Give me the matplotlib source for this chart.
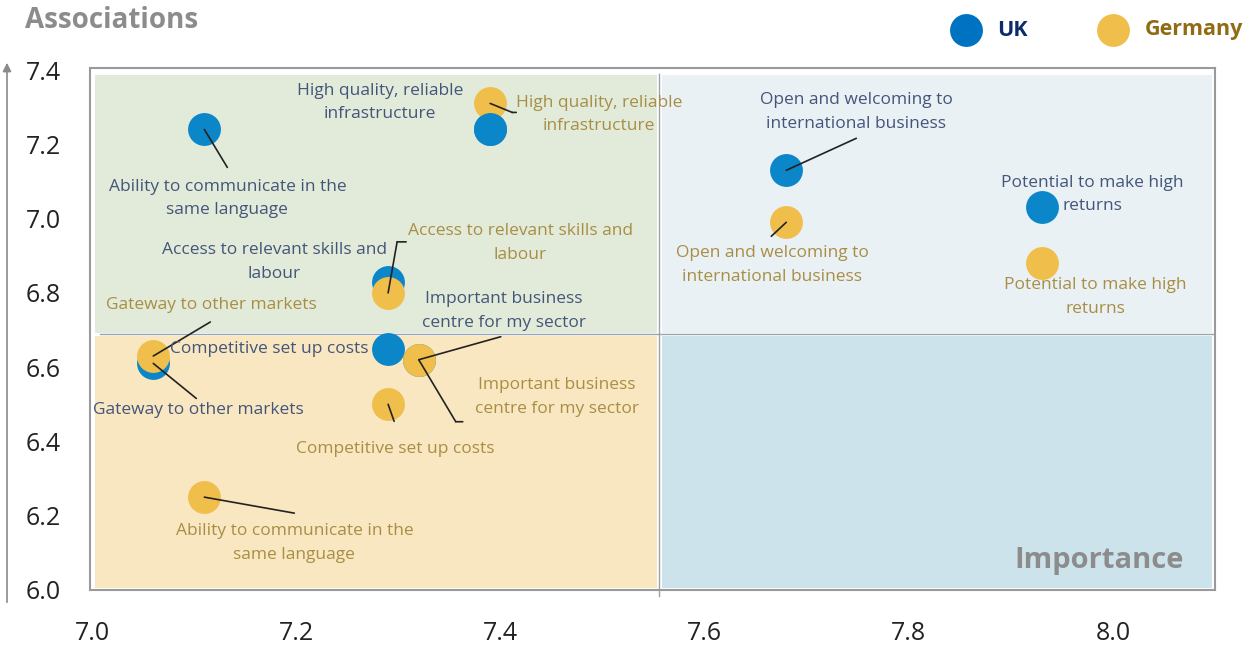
import numpy as np
import matplotlib
matplotlib.use('Agg')
import matplotlib.pyplot as plt
from matplotlib.patches import Rectangle, FancyArrowPatch

plt.rcParams['font.family'] = ['Open Sans', 'DejaVu Sans']

#-------------------------------------------------------------------------------
#DATA

labels_uk = ['Ability to communicate in the\nsame language',
             'High quality, reliable\ninfrastructure',
             'Open and welcoming to\ninternational business',
             'Potential to make high\nreturns',
             'Access to relevant skills and\nlabour',
             'Competitive set up costs',
             'Gateway to other markets',
             'Important business\ncentre for my sector']
labels_de = ['Ability to communicate in the\nsame language',
             'High quality, reliable\ninfrastructure',
             'Open and welcoming to\ninternational business',
             'Potential to make high\nreturns',
             'Access to relevant skills and\nlabour',
             'Competitive set up costs',
             'Gateway to other markets',
             'Important business\ncentre for my sector']

uk_importance = [7.11, 7.39, 7.68, 7.93, 7.29, 7.29, 7.06, 7.32]
uk_association = [7.24, 7.24, 7.13, 7.03, 6.83, 6.65, 6.61, 6.62]
de_importance = [7.11, 7.39, 7.68, 7.93, 7.29, 7.29, 7.06, 7.32]
de_association = [6.25, 7.31, 6.99, 6.88, 6.80, 6.50, 6.63, 6.62]

xticks = [7.0, 7.2, 7.4, 7.6, 7.8, 8.0]
yticks = [6.0, 6.2, 6.4, 6.6, 6.8, 7.0, 7.2, 7.4]

#-------------------------------------------------------------------------------
#STYLE / LAYOUT

c_uk = '#0a86c9'
c_de = '#f0be4a'
c_uk_txt = '#44557a'
c_de_txt = '#a88e45'

#label offsets (pixels) from marker: text centre, leader end (None = no leader)
off_uk = [((23, -69), (23, -38)),
          ((-110, 27), None),
          ((70, 58), (70, 32)),
          ((51, 13), None),
          ((-114, 20), None),
          ((-119, 0), None),
          ((45, -47), (43, -35)),
          ((85, 49), (82, 23))]
off_de = [((90, -46), (90, -16)),
          ((109, -11), (22, -9)),
          ((-14, -43), (-15, -14)),
          ((54, -34), None),
          ((132, 50), (9, 51)),
          ((7, -45), (6, -17)),
          ((58, 51), (57, 34)),
          ((138, -37), (37, -62))]
#short horizontal ends on some leaders (pixels)
ticks_de = {1: 4, 4: 9, 7: 7}

W, H = 1254, 650
fig = plt.figure(figsize=(W/100, H/100), dpi=100)
ax = fig.add_axes([90/W, (H-590)/H, (1215-90)/W, (590-68)/H])
ax.set_xlim(6.998, 8.0999)
ax.set_ylim(6.0, 7.4054)

#quadrant backgrounds
xm, ym = 7.5555, 6.688
quads = [((7.003, ym + 0.004), (xm - 0.002, 7.386), '#e2ebd9'),
         ((xm + 0.003, ym + 0.004), (8.097, 7.386), '#e9f1f5'),
         ((7.003, 6.006), (xm - 0.002, ym - 0.005), '#f9e7c2'),
         ((xm + 0.003, 6.006), (8.097, ym - 0.005), '#cde3eb')]
for (x0, y0), (x1, y1), c in quads:
    ax.add_patch(Rectangle((x0, y0), x1 - x0, y1 - y0, facecolor=c,
                           edgecolor='none', zorder=0))
ax.plot([xm, xm], [5.985, 7.39], color='#9aa3aa', lw=1, clip_on=False, zorder=1)
ax.plot([7.008, 8.0999], [ym, ym], color='#9aa3aa', lw=1, zorder=1)

for s in ax.spines.values():
    s.set_color('#9a9a9a')
    s.set_linewidth(1.5)

ax.set_xticks(xticks)
ax.set_xticklabels(['%.1f' % v for v in xticks])
ax.set_yticks(yticks)
ax.set_yticklabels(['%.1f' % v for v in yticks])
ax.tick_params(length=0, labelsize=18, colors='#222222')
ax.tick_params(axis='y', pad=21)
ax.tick_params(axis='x', pad=22)

ax.scatter(uk_importance, uk_association, s=560, color=c_uk, lw=0, zorder=3)
ax.scatter(de_importance, de_association, s=560, color=c_de, lw=0, zorder=4)
#UK infrastructure point sits over the German one
ax.scatter(uk_importance[1], uk_association[1], s=560, color=c_uk, lw=0, zorder=4)

def add_labels(xs, ys, labels, offs, col, tick_ends):
    for i, (x, y, lab, (toff, loff)) in enumerate(zip(xs, ys, labels, offs)):
        ax.annotate(lab, (x, y), xytext=toff, textcoords='offset pixels',
                    ha='center', va='center', fontsize=12.5, color=col,
                    linespacing=1.65, zorder=6)
        if loff is None:
            continue
        ax.annotate('', (x, y), xytext=loff, textcoords='offset pixels',
                    arrowprops=dict(arrowstyle='-', color='#222222', lw=1.2,
                                    shrinkA=0, shrinkB=0), zorder=5)
        if i in tick_ends:
            xa, ya = ax.transData.transform((x, y))
            ax.annotate('', xy=(xa + loff[0] + tick_ends[i], ya + loff[1]),
                        xycoords='figure pixels',
                        xytext=(xa + loff[0], ya + loff[1]),
                        textcoords='figure pixels',
                        arrowprops=dict(arrowstyle='-', color='#222222', lw=1.2,
                                        shrinkA=0, shrinkB=0), zorder=5)

add_labels(uk_importance, uk_association, labels_uk, off_uk, c_uk_txt, {})
add_labels(de_importance, de_association, labels_de, off_de, c_de_txt, ticks_de)

#titles
fig.text(25/W, 1 - 21/H, 'Associations', fontsize=20, fontweight='bold',
         color='#8c8c8c', ha='left', va='center')
ax.text(8.069, 6.08, 'Importance', fontsize=21, fontweight='bold',
        color='#8c8c8c', ha='right', va='center', zorder=6)

#y axis arrow
fig.add_artist(FancyArrowPatch(
    (7/W, 1 - 605/H), (7/W, 1 - 60/H), transform=fig.transFigure,
    arrowstyle='-|>,head_length=5,head_width=2.5', color='#8a8a8a', lw=1.2))

#legend
h1 = ax.scatter([], [], s=560, color='#0072c2', lw=0)
h2 = ax.scatter([], [], s=560, color=c_de, lw=0)
leg = fig.legend([h1, h2], ['UK', 'Germany'], loc='center left',
                 bbox_to_anchor=(944/W, 1 - 30/H), ncol=2, frameon=False,
                 fontsize=15.5, columnspacing=3.0, handletextpad=0.45,
                 borderpad=0, borderaxespad=0)
for t, c in zip(leg.get_texts(), ['#0d2b6b', '#8f6b14']):
    t.set_color(c)
    t.set_fontweight('bold')

fig.savefig('out.png', dpi=100)
